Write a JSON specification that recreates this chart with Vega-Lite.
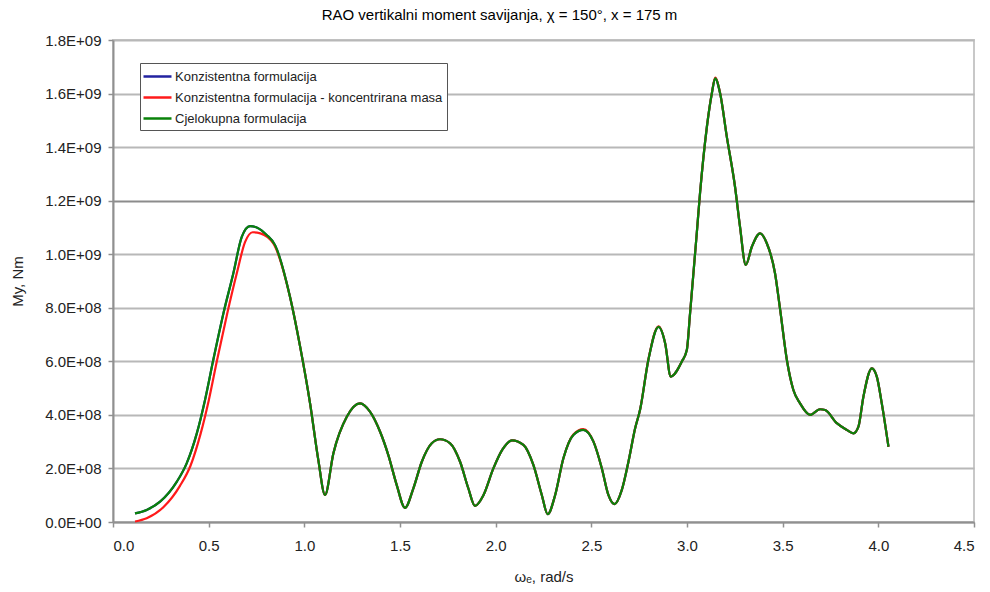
{
  "$schema": "https://vega.github.io/schema/vega-lite/v6.json",
  "width": 861,
  "height": 482,
  "autosize": "none",
  "padding": {"left": 113, "top": 40, "right": 16, "bottom": 70},
  "background": "white",
  "title": {"text": "RAO vertikalni moment savijanja, χ = 150°, x = 175 m", "font": "Liberation Sans", "fontSize": 15, "fontWeight": "normal", "color": "#000", "anchor": "middle", "dx": -44, "offset": 10},
  "config": {
    "view": {"stroke": "#c8c8c8", "strokeWidth": 2},
    "axis": {"labelFont": "Liberation Sans", "labelFontSize": 15, "labelColor": "#222", "titleFont": "Liberation Sans", "titleFontSize": 15, "titleFontWeight": "normal", "titleColor": "#222", "domainColor": "#909090", "domainWidth": 2, "tickColor": "#909090", "tickWidth": 1.5, "tickSize": 5}
  },
  "data": {"values": [
    {"s": "Konzistentna formulacija", "w": 0.115, "m": 0.032e9},
    {"s": "Konzistentna formulacija", "w": 0.176, "m": 0.045e9},
    {"s": "Konzistentna formulacija", "w": 0.246, "m": 0.076e9},
    {"s": "Konzistentna formulacija", "w": 0.333, "m": 0.150e9},
    {"s": "Konzistentna formulacija", "w": 0.385, "m": 0.219e9},
    {"s": "Konzistentna formulacija", "w": 0.438, "m": 0.331e9},
    {"s": "Konzistentna formulacija", "w": 0.481, "m": 0.456e9},
    {"s": "Konzistentna formulacija", "w": 0.524, "m": 0.605e9},
    {"s": "Konzistentna formulacija", "w": 0.577, "m": 0.779e9},
    {"s": "Konzistentna formulacija", "w": 0.629, "m": 0.929e9},
    {"s": "Konzistentna formulacija", "w": 0.673, "m": 1.065e9},
    {"s": "Konzistentna formulacija", "w": 0.716, "m": 1.105e9},
    {"s": "Konzistentna formulacija", "w": 0.751, "m": 1.100e9},
    {"s": "Konzistentna formulacija", "w": 0.803, "m": 1.072e9},
    {"s": "Konzistentna formulacija", "w": 0.847, "m": 1.034e9},
    {"s": "Konzistentna formulacija", "w": 0.925, "m": 0.841e9},
    {"s": "Konzistentna formulacija", "w": 0.978, "m": 0.655e9},
    {"s": "Konzistentna formulacija", "w": 1.030, "m": 0.443e9},
    {"s": "Konzistentna formulacija", "w": 1.073, "m": 0.232e9},
    {"s": "Konzistentna formulacija", "w": 1.108, "m": 0.101e9},
    {"s": "Konzistentna formulacija", "w": 1.152, "m": 0.257e9},
    {"s": "Konzistentna formulacija", "w": 1.222, "m": 0.393e9},
    {"s": "Konzistentna formulacija", "w": 1.291, "m": 0.443e9},
    {"s": "Konzistentna formulacija", "w": 1.343, "m": 0.412e9},
    {"s": "Konzistentna formulacija", "w": 1.396, "m": 0.337e9},
    {"s": "Konzistentna formulacija", "w": 1.439, "m": 0.250e9},
    {"s": "Konzistentna formulacija", "w": 1.483, "m": 0.138e9},
    {"s": "Konzistentna formulacija", "w": 1.526, "m": 0.053e9},
    {"s": "Konzistentna formulacija", "w": 1.570, "m": 0.126e9},
    {"s": "Konzistentna formulacija", "w": 1.614, "m": 0.225e9},
    {"s": "Konzistentna formulacija", "w": 1.666, "m": 0.294e9},
    {"s": "Konzistentna formulacija", "w": 1.709, "m": 0.309e9},
    {"s": "Konzistentna formulacija", "w": 1.762, "m": 0.294e9},
    {"s": "Konzistentna formulacija", "w": 1.814, "m": 0.225e9},
    {"s": "Konzistentna formulacija", "w": 1.857, "m": 0.126e9},
    {"s": "Konzistentna formulacija", "w": 1.892, "m": 0.060e9},
    {"s": "Konzistentna formulacija", "w": 1.936, "m": 0.100e9},
    {"s": "Konzistentna formulacija", "w": 1.988, "m": 0.200e9},
    {"s": "Konzistentna formulacija", "w": 2.035, "m": 0.270e9},
    {"s": "Konzistentna formulacija", "w": 2.085, "m": 0.305e9},
    {"s": "Konzistentna formulacija", "w": 2.145, "m": 0.288e9},
    {"s": "Konzistentna formulacija", "w": 2.197, "m": 0.213e9},
    {"s": "Konzistentna formulacija", "w": 2.241, "m": 0.101e9},
    {"s": "Konzistentna formulacija", "w": 2.272, "m": 0.029e9},
    {"s": "Konzistentna formulacija", "w": 2.311, "m": 0.101e9},
    {"s": "Konzistentna formulacija", "w": 2.354, "m": 0.238e9},
    {"s": "Konzistentna formulacija", "w": 2.406, "m": 0.325e9},
    {"s": "Konzistentna formulacija", "w": 2.458, "m": 0.344e9},
    {"s": "Konzistentna formulacija", "w": 2.511, "m": 0.300e9},
    {"s": "Konzistentna formulacija", "w": 2.555, "m": 0.200e9},
    {"s": "Konzistentna formulacija", "w": 2.589, "m": 0.101e9},
    {"s": "Konzistentna formulacija", "w": 2.621, "m": 0.067e9},
    {"s": "Konzistentna formulacija", "w": 2.659, "m": 0.119e9},
    {"s": "Konzistentna formulacija", "w": 2.694, "m": 0.225e9},
    {"s": "Konzistentna formulacija", "w": 2.729, "m": 0.350e9},
    {"s": "Konzistentna formulacija", "w": 2.755, "m": 0.420e9},
    {"s": "Konzistentna formulacija", "w": 2.798, "m": 0.605e9},
    {"s": "Konzistentna formulacija", "w": 2.851, "m": 0.729e9},
    {"s": "Konzistentna formulacija", "w": 2.886, "m": 0.667e9},
    {"s": "Konzistentna formulacija", "w": 2.915, "m": 0.543e9},
    {"s": "Konzistentna formulacija", "w": 2.973, "m": 0.599e9},
    {"s": "Konzistentna formulacija", "w": 2.999, "m": 0.642e9},
    {"s": "Konzistentna formulacija", "w": 3.016, "m": 0.779e9},
    {"s": "Konzistentna formulacija", "w": 3.051, "m": 1.078e9},
    {"s": "Konzistentna formulacija", "w": 3.068, "m": 1.227e9},
    {"s": "Konzistentna formulacija", "w": 3.104, "m": 1.476e9},
    {"s": "Konzistentna formulacija", "w": 3.130, "m": 1.601e9},
    {"s": "Konzistentna formulacija", "w": 3.147, "m": 1.657e9},
    {"s": "Konzistentna formulacija", "w": 3.173, "m": 1.601e9},
    {"s": "Konzistentna formulacija", "w": 3.208, "m": 1.439e9},
    {"s": "Konzistentna formulacija", "w": 3.251, "m": 1.252e9},
    {"s": "Konzistentna formulacija", "w": 3.277, "m": 1.103e9},
    {"s": "Konzistentna formulacija", "w": 3.307, "m": 0.960e9},
    {"s": "Konzistentna formulacija", "w": 3.339, "m": 1.028e9},
    {"s": "Konzistentna formulacija", "w": 3.382, "m": 1.078e9},
    {"s": "Konzistentna formulacija", "w": 3.417, "m": 1.041e9},
    {"s": "Konzistentna formulacija", "w": 3.460, "m": 0.929e9},
    {"s": "Konzistentna formulacija", "w": 3.487, "m": 0.792e9},
    {"s": "Konzistentna formulacija", "w": 3.522, "m": 0.605e9},
    {"s": "Konzistentna formulacija", "w": 3.556, "m": 0.493e9},
    {"s": "Konzistentna formulacija", "w": 3.591, "m": 0.443e9},
    {"s": "Konzistentna formulacija", "w": 3.643, "m": 0.400e9},
    {"s": "Konzistentna formulacija", "w": 3.695, "m": 0.421e9},
    {"s": "Konzistentna formulacija", "w": 3.722, "m": 0.418e9},
    {"s": "Konzistentna formulacija", "w": 3.783, "m": 0.369e9},
    {"s": "Konzistentna formulacija", "w": 3.835, "m": 0.344e9},
    {"s": "Konzistentna formulacija", "w": 3.870, "m": 0.331e9},
    {"s": "Konzistentna formulacija", "w": 3.896, "m": 0.356e9},
    {"s": "Konzistentna formulacija", "w": 3.922, "m": 0.468e9},
    {"s": "Konzistentna formulacija", "w": 3.966, "m": 0.574e9},
    {"s": "Konzistentna formulacija", "w": 3.992, "m": 0.543e9},
    {"s": "Konzistentna formulacija", "w": 4.018, "m": 0.443e9},
    {"s": "Konzistentna formulacija", "w": 4.053, "m": 0.281e9},

    {"s": "Konzistentna formulacija - koncentrirana masa", "w": 0.115, "m": 0.002e9},
    {"s": "Konzistentna formulacija - koncentrirana masa", "w": 0.176, "m": 0.014e9},
    {"s": "Konzistentna formulacija - koncentrirana masa", "w": 0.263, "m": 0.055e9},
    {"s": "Konzistentna formulacija - koncentrirana masa", "w": 0.350, "m": 0.135e9},
    {"s": "Konzistentna formulacija - koncentrirana masa", "w": 0.405, "m": 0.210e9},
    {"s": "Konzistentna formulacija - koncentrirana masa", "w": 0.458, "m": 0.330e9},
    {"s": "Konzistentna formulacija - koncentrirana masa", "w": 0.501, "m": 0.456e9},
    {"s": "Konzistentna formulacija - koncentrirana masa", "w": 0.544, "m": 0.605e9},
    {"s": "Konzistentna formulacija - koncentrirana masa", "w": 0.597, "m": 0.779e9},
    {"s": "Konzistentna formulacija - koncentrirana masa", "w": 0.647, "m": 0.929e9},
    {"s": "Konzistentna formulacija - koncentrirana masa", "w": 0.690, "m": 1.045e9},
    {"s": "Konzistentna formulacija - koncentrirana masa", "w": 0.730, "m": 1.082e9},
    {"s": "Konzistentna formulacija - koncentrirana masa", "w": 0.770, "m": 1.078e9},
    {"s": "Konzistentna formulacija - koncentrirana masa", "w": 0.838, "m": 1.040e9},
    {"s": "Konzistentna formulacija - koncentrirana masa", "w": 0.925, "m": 0.841e9},
    {"s": "Konzistentna formulacija - koncentrirana masa", "w": 0.978, "m": 0.655e9},
    {"s": "Konzistentna formulacija - koncentrirana masa", "w": 1.030, "m": 0.443e9},
    {"s": "Konzistentna formulacija - koncentrirana masa", "w": 1.073, "m": 0.232e9},
    {"s": "Konzistentna formulacija - koncentrirana masa", "w": 1.108, "m": 0.101e9},
    {"s": "Konzistentna formulacija - koncentrirana masa", "w": 1.152, "m": 0.257e9},
    {"s": "Konzistentna formulacija - koncentrirana masa", "w": 1.222, "m": 0.393e9},
    {"s": "Konzistentna formulacija - koncentrirana masa", "w": 1.291, "m": 0.443e9},
    {"s": "Konzistentna formulacija - koncentrirana masa", "w": 1.343, "m": 0.412e9},
    {"s": "Konzistentna formulacija - koncentrirana masa", "w": 1.396, "m": 0.337e9},
    {"s": "Konzistentna formulacija - koncentrirana masa", "w": 1.439, "m": 0.250e9},
    {"s": "Konzistentna formulacija - koncentrirana masa", "w": 1.483, "m": 0.138e9},
    {"s": "Konzistentna formulacija - koncentrirana masa", "w": 1.526, "m": 0.053e9},
    {"s": "Konzistentna formulacija - koncentrirana masa", "w": 1.570, "m": 0.126e9},
    {"s": "Konzistentna formulacija - koncentrirana masa", "w": 1.614, "m": 0.225e9},
    {"s": "Konzistentna formulacija - koncentrirana masa", "w": 1.666, "m": 0.294e9},
    {"s": "Konzistentna formulacija - koncentrirana masa", "w": 1.709, "m": 0.309e9},
    {"s": "Konzistentna formulacija - koncentrirana masa", "w": 1.762, "m": 0.294e9},
    {"s": "Konzistentna formulacija - koncentrirana masa", "w": 1.814, "m": 0.225e9},
    {"s": "Konzistentna formulacija - koncentrirana masa", "w": 1.857, "m": 0.126e9},
    {"s": "Konzistentna formulacija - koncentrirana masa", "w": 1.892, "m": 0.060e9},
    {"s": "Konzistentna formulacija - koncentrirana masa", "w": 1.936, "m": 0.100e9},
    {"s": "Konzistentna formulacija - koncentrirana masa", "w": 1.988, "m": 0.200e9},
    {"s": "Konzistentna formulacija - koncentrirana masa", "w": 2.035, "m": 0.270e9},
    {"s": "Konzistentna formulacija - koncentrirana masa", "w": 2.085, "m": 0.305e9},
    {"s": "Konzistentna formulacija - koncentrirana masa", "w": 2.145, "m": 0.288e9},
    {"s": "Konzistentna formulacija - koncentrirana masa", "w": 2.197, "m": 0.213e9},
    {"s": "Konzistentna formulacija - koncentrirana masa", "w": 2.241, "m": 0.101e9},
    {"s": "Konzistentna formulacija - koncentrirana masa", "w": 2.272, "m": 0.029e9},
    {"s": "Konzistentna formulacija - koncentrirana masa", "w": 2.311, "m": 0.101e9},
    {"s": "Konzistentna formulacija - koncentrirana masa", "w": 2.354, "m": 0.238e9},
    {"s": "Konzistentna formulacija - koncentrirana masa", "w": 2.406, "m": 0.327e9},
    {"s": "Konzistentna formulacija - koncentrirana masa", "w": 2.458, "m": 0.347e9},
    {"s": "Konzistentna formulacija - koncentrirana masa", "w": 2.511, "m": 0.301e9},
    {"s": "Konzistentna formulacija - koncentrirana masa", "w": 2.555, "m": 0.200e9},
    {"s": "Konzistentna formulacija - koncentrirana masa", "w": 2.589, "m": 0.101e9},
    {"s": "Konzistentna formulacija - koncentrirana masa", "w": 2.621, "m": 0.067e9},
    {"s": "Konzistentna formulacija - koncentrirana masa", "w": 2.659, "m": 0.119e9},
    {"s": "Konzistentna formulacija - koncentrirana masa", "w": 2.694, "m": 0.225e9},
    {"s": "Konzistentna formulacija - koncentrirana masa", "w": 2.729, "m": 0.350e9},
    {"s": "Konzistentna formulacija - koncentrirana masa", "w": 2.755, "m": 0.420e9},
    {"s": "Konzistentna formulacija - koncentrirana masa", "w": 2.798, "m": 0.606e9},
    {"s": "Konzistentna formulacija - koncentrirana masa", "w": 2.851, "m": 0.731e9},
    {"s": "Konzistentna formulacija - koncentrirana masa", "w": 2.886, "m": 0.667e9},
    {"s": "Konzistentna formulacija - koncentrirana masa", "w": 2.915, "m": 0.543e9},
    {"s": "Konzistentna formulacija - koncentrirana masa", "w": 2.973, "m": 0.599e9},
    {"s": "Konzistentna formulacija - koncentrirana masa", "w": 2.999, "m": 0.642e9},
    {"s": "Konzistentna formulacija - koncentrirana masa", "w": 3.016, "m": 0.779e9},
    {"s": "Konzistentna formulacija - koncentrirana masa", "w": 3.051, "m": 1.078e9},
    {"s": "Konzistentna formulacija - koncentrirana masa", "w": 3.068, "m": 1.227e9},
    {"s": "Konzistentna formulacija - koncentrirana masa", "w": 3.104, "m": 1.476e9},
    {"s": "Konzistentna formulacija - koncentrirana masa", "w": 3.130, "m": 1.602e9},
    {"s": "Konzistentna formulacija - koncentrirana masa", "w": 3.147, "m": 1.660e9},
    {"s": "Konzistentna formulacija - koncentrirana masa", "w": 3.173, "m": 1.602e9},
    {"s": "Konzistentna formulacija - koncentrirana masa", "w": 3.208, "m": 1.439e9},
    {"s": "Konzistentna formulacija - koncentrirana masa", "w": 3.251, "m": 1.252e9},
    {"s": "Konzistentna formulacija - koncentrirana masa", "w": 3.277, "m": 1.103e9},
    {"s": "Konzistentna formulacija - koncentrirana masa", "w": 3.307, "m": 0.960e9},
    {"s": "Konzistentna formulacija - koncentrirana masa", "w": 3.339, "m": 1.028e9},
    {"s": "Konzistentna formulacija - koncentrirana masa", "w": 3.382, "m": 1.078e9},
    {"s": "Konzistentna formulacija - koncentrirana masa", "w": 3.417, "m": 1.041e9},
    {"s": "Konzistentna formulacija - koncentrirana masa", "w": 3.460, "m": 0.929e9},
    {"s": "Konzistentna formulacija - koncentrirana masa", "w": 3.487, "m": 0.792e9},
    {"s": "Konzistentna formulacija - koncentrirana masa", "w": 3.522, "m": 0.605e9},
    {"s": "Konzistentna formulacija - koncentrirana masa", "w": 3.556, "m": 0.493e9},
    {"s": "Konzistentna formulacija - koncentrirana masa", "w": 3.591, "m": 0.443e9},
    {"s": "Konzistentna formulacija - koncentrirana masa", "w": 3.643, "m": 0.400e9},
    {"s": "Konzistentna formulacija - koncentrirana masa", "w": 3.695, "m": 0.421e9},
    {"s": "Konzistentna formulacija - koncentrirana masa", "w": 3.722, "m": 0.418e9},
    {"s": "Konzistentna formulacija - koncentrirana masa", "w": 3.783, "m": 0.369e9},
    {"s": "Konzistentna formulacija - koncentrirana masa", "w": 3.835, "m": 0.344e9},
    {"s": "Konzistentna formulacija - koncentrirana masa", "w": 3.870, "m": 0.331e9},
    {"s": "Konzistentna formulacija - koncentrirana masa", "w": 3.896, "m": 0.356e9},
    {"s": "Konzistentna formulacija - koncentrirana masa", "w": 3.922, "m": 0.468e9},
    {"s": "Konzistentna formulacija - koncentrirana masa", "w": 3.966, "m": 0.574e9},
    {"s": "Konzistentna formulacija - koncentrirana masa", "w": 3.992, "m": 0.543e9},
    {"s": "Konzistentna formulacija - koncentrirana masa", "w": 4.018, "m": 0.443e9},
    {"s": "Konzistentna formulacija - koncentrirana masa", "w": 4.053, "m": 0.281e9},

    {"s": "Cjelokupna formulacija", "w": 0.115, "m": 0.032e9},
    {"s": "Cjelokupna formulacija", "w": 0.176, "m": 0.045e9},
    {"s": "Cjelokupna formulacija", "w": 0.246, "m": 0.076e9},
    {"s": "Cjelokupna formulacija", "w": 0.333, "m": 0.150e9},
    {"s": "Cjelokupna formulacija", "w": 0.385, "m": 0.219e9},
    {"s": "Cjelokupna formulacija", "w": 0.438, "m": 0.331e9},
    {"s": "Cjelokupna formulacija", "w": 0.481, "m": 0.456e9},
    {"s": "Cjelokupna formulacija", "w": 0.524, "m": 0.605e9},
    {"s": "Cjelokupna formulacija", "w": 0.577, "m": 0.779e9},
    {"s": "Cjelokupna formulacija", "w": 0.629, "m": 0.929e9},
    {"s": "Cjelokupna formulacija", "w": 0.673, "m": 1.065e9},
    {"s": "Cjelokupna formulacija", "w": 0.716, "m": 1.105e9},
    {"s": "Cjelokupna formulacija", "w": 0.751, "m": 1.100e9},
    {"s": "Cjelokupna formulacija", "w": 0.803, "m": 1.072e9},
    {"s": "Cjelokupna formulacija", "w": 0.847, "m": 1.034e9},
    {"s": "Cjelokupna formulacija", "w": 0.925, "m": 0.841e9},
    {"s": "Cjelokupna formulacija", "w": 0.978, "m": 0.655e9},
    {"s": "Cjelokupna formulacija", "w": 1.030, "m": 0.443e9},
    {"s": "Cjelokupna formulacija", "w": 1.073, "m": 0.232e9},
    {"s": "Cjelokupna formulacija", "w": 1.108, "m": 0.101e9},
    {"s": "Cjelokupna formulacija", "w": 1.152, "m": 0.257e9},
    {"s": "Cjelokupna formulacija", "w": 1.222, "m": 0.393e9},
    {"s": "Cjelokupna formulacija", "w": 1.291, "m": 0.443e9},
    {"s": "Cjelokupna formulacija", "w": 1.343, "m": 0.412e9},
    {"s": "Cjelokupna formulacija", "w": 1.396, "m": 0.337e9},
    {"s": "Cjelokupna formulacija", "w": 1.439, "m": 0.250e9},
    {"s": "Cjelokupna formulacija", "w": 1.483, "m": 0.138e9},
    {"s": "Cjelokupna formulacija", "w": 1.526, "m": 0.053e9},
    {"s": "Cjelokupna formulacija", "w": 1.570, "m": 0.126e9},
    {"s": "Cjelokupna formulacija", "w": 1.614, "m": 0.225e9},
    {"s": "Cjelokupna formulacija", "w": 1.666, "m": 0.294e9},
    {"s": "Cjelokupna formulacija", "w": 1.709, "m": 0.309e9},
    {"s": "Cjelokupna formulacija", "w": 1.762, "m": 0.294e9},
    {"s": "Cjelokupna formulacija", "w": 1.814, "m": 0.225e9},
    {"s": "Cjelokupna formulacija", "w": 1.857, "m": 0.126e9},
    {"s": "Cjelokupna formulacija", "w": 1.892, "m": 0.060e9},
    {"s": "Cjelokupna formulacija", "w": 1.936, "m": 0.100e9},
    {"s": "Cjelokupna formulacija", "w": 1.988, "m": 0.200e9},
    {"s": "Cjelokupna formulacija", "w": 2.035, "m": 0.270e9},
    {"s": "Cjelokupna formulacija", "w": 2.085, "m": 0.305e9},
    {"s": "Cjelokupna formulacija", "w": 2.145, "m": 0.288e9},
    {"s": "Cjelokupna formulacija", "w": 2.197, "m": 0.213e9},
    {"s": "Cjelokupna formulacija", "w": 2.241, "m": 0.101e9},
    {"s": "Cjelokupna formulacija", "w": 2.272, "m": 0.029e9},
    {"s": "Cjelokupna formulacija", "w": 2.311, "m": 0.101e9},
    {"s": "Cjelokupna formulacija", "w": 2.354, "m": 0.238e9},
    {"s": "Cjelokupna formulacija", "w": 2.406, "m": 0.325e9},
    {"s": "Cjelokupna formulacija", "w": 2.458, "m": 0.344e9},
    {"s": "Cjelokupna formulacija", "w": 2.511, "m": 0.300e9},
    {"s": "Cjelokupna formulacija", "w": 2.555, "m": 0.200e9},
    {"s": "Cjelokupna formulacija", "w": 2.589, "m": 0.101e9},
    {"s": "Cjelokupna formulacija", "w": 2.621, "m": 0.067e9},
    {"s": "Cjelokupna formulacija", "w": 2.659, "m": 0.119e9},
    {"s": "Cjelokupna formulacija", "w": 2.694, "m": 0.225e9},
    {"s": "Cjelokupna formulacija", "w": 2.729, "m": 0.350e9},
    {"s": "Cjelokupna formulacija", "w": 2.755, "m": 0.420e9},
    {"s": "Cjelokupna formulacija", "w": 2.798, "m": 0.605e9},
    {"s": "Cjelokupna formulacija", "w": 2.851, "m": 0.729e9},
    {"s": "Cjelokupna formulacija", "w": 2.886, "m": 0.667e9},
    {"s": "Cjelokupna formulacija", "w": 2.915, "m": 0.543e9},
    {"s": "Cjelokupna formulacija", "w": 2.973, "m": 0.599e9},
    {"s": "Cjelokupna formulacija", "w": 2.999, "m": 0.642e9},
    {"s": "Cjelokupna formulacija", "w": 3.016, "m": 0.779e9},
    {"s": "Cjelokupna formulacija", "w": 3.051, "m": 1.078e9},
    {"s": "Cjelokupna formulacija", "w": 3.068, "m": 1.227e9},
    {"s": "Cjelokupna formulacija", "w": 3.104, "m": 1.476e9},
    {"s": "Cjelokupna formulacija", "w": 3.130, "m": 1.601e9},
    {"s": "Cjelokupna formulacija", "w": 3.147, "m": 1.657e9},
    {"s": "Cjelokupna formulacija", "w": 3.173, "m": 1.601e9},
    {"s": "Cjelokupna formulacija", "w": 3.208, "m": 1.439e9},
    {"s": "Cjelokupna formulacija", "w": 3.251, "m": 1.252e9},
    {"s": "Cjelokupna formulacija", "w": 3.277, "m": 1.103e9},
    {"s": "Cjelokupna formulacija", "w": 3.307, "m": 0.960e9},
    {"s": "Cjelokupna formulacija", "w": 3.339, "m": 1.028e9},
    {"s": "Cjelokupna formulacija", "w": 3.382, "m": 1.078e9},
    {"s": "Cjelokupna formulacija", "w": 3.417, "m": 1.041e9},
    {"s": "Cjelokupna formulacija", "w": 3.460, "m": 0.929e9},
    {"s": "Cjelokupna formulacija", "w": 3.487, "m": 0.792e9},
    {"s": "Cjelokupna formulacija", "w": 3.522, "m": 0.605e9},
    {"s": "Cjelokupna formulacija", "w": 3.556, "m": 0.493e9},
    {"s": "Cjelokupna formulacija", "w": 3.591, "m": 0.443e9},
    {"s": "Cjelokupna formulacija", "w": 3.643, "m": 0.400e9},
    {"s": "Cjelokupna formulacija", "w": 3.695, "m": 0.421e9},
    {"s": "Cjelokupna formulacija", "w": 3.722, "m": 0.418e9},
    {"s": "Cjelokupna formulacija", "w": 3.783, "m": 0.369e9},
    {"s": "Cjelokupna formulacija", "w": 3.835, "m": 0.344e9},
    {"s": "Cjelokupna formulacija", "w": 3.870, "m": 0.331e9},
    {"s": "Cjelokupna formulacija", "w": 3.896, "m": 0.356e9},
    {"s": "Cjelokupna formulacija", "w": 3.922, "m": 0.468e9},
    {"s": "Cjelokupna formulacija", "w": 3.966, "m": 0.574e9},
    {"s": "Cjelokupna formulacija", "w": 3.992, "m": 0.543e9},
    {"s": "Cjelokupna formulacija", "w": 4.018, "m": 0.443e9},
    {"s": "Cjelokupna formulacija", "w": 4.053, "m": 0.281e9}
  ]},
  "encoding": {
    "x": {"field": "w", "type": "quantitative", "scale": {"domain": [0, 4.5], "nice": false},
      "axis": {"title": "ωₑ, rad/s", "values": [0, 0.5, 1, 1.5, 2, 2.5, 3, 3.5, 4, 4.5], "format": ".1f", "grid": false, "labelPadding": 11, "titlePadding": 16}},
    "y": {"field": "m", "type": "quantitative", "scale": {"domain": [0, 1800000000], "nice": false},
      "axis": {"title": "My, Nm", "values": [0, 200000000, 400000000, 600000000, 800000000, 1000000000, 1200000000, 1400000000, 1600000000, 1800000000],
        "labelExpr": "datum.value == 0 ? '0.0E+00' : format(datum.value / pow(10, floor(log(datum.value) / LN10 + 1e-9)), '.1f') + 'E+' + (floor(log(datum.value) / LN10 + 1e-9) < 10 ? '0' : '') + floor(log(datum.value) / LN10 + 1e-9)",
        "grid": true, "gridWidth": 2,
        "gridColor": {"condition": {"test": "datum.value == 1200000000", "value": "#8c8c8c"}, "value": "#b8b8b8"},
        "labelPadding": 7, "titlePadding": 19}},
    "color": {"field": "s", "type": "nominal",
      "scale": {"domain": ["Konzistentna formulacija", "Konzistentna formulacija - koncentrirana masa", "Cjelokupna formulacija"], "range": ["#2222a0", "#ff1a1a", "#0a820a"]},
      "legend": {"title": null, "orient": "none", "legendX": 27, "legendY": 23, "symbolType": "M-1.25,0L2.25,0", "symbolSize": 256, "symbolStrokeWidth": 2.5,
        "labelFont": "Liberation Sans", "labelFontSize": 13, "labelColor": "#222", "labelOffset": 12, "rowPadding": 4,
        "strokeColor": "#555", "fillColor": "white", "padding": 4, "labelLimit": 400}}
  },
  "layer": [
    {"transform": [{"filter": "datum.s == 'Konzistentna formulacija'"}], "mark": {"type": "line", "interpolate": "monotone", "strokeWidth": 2.2}},
    {"transform": [{"filter": "datum.s == 'Konzistentna formulacija - koncentrirana masa'"}], "mark": {"type": "line", "interpolate": "monotone", "strokeWidth": 2.2}},
    {"transform": [{"filter": "datum.s == 'Cjelokupna formulacija'"}], "mark": {"type": "line", "interpolate": "monotone", "strokeWidth": 2.2}}
  ]
}
